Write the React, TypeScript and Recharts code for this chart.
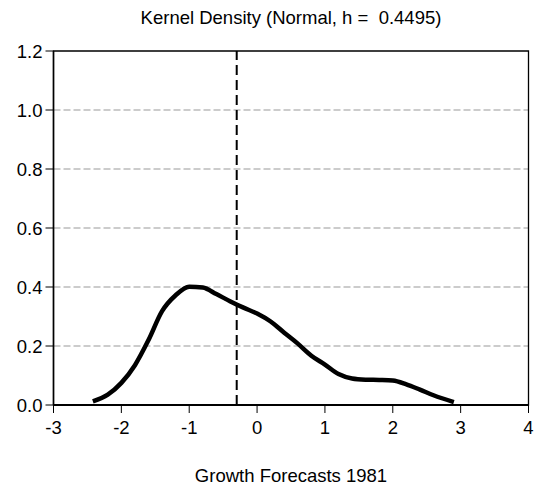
import React from "react";
import {
  LineChart,
  Line,
  XAxis,
  YAxis,
  CartesianGrid,
  ReferenceLine,
  ReferenceArea,
} from "recharts";

// growth forecast values (x) and estimated density (y)
const growth = [
  -2.42, -2.2, -2.0, -1.8, -1.6, -1.4, -1.2, -1.0, -0.8, -0.6, -0.4, -0.2, 0.0,
  0.2, 0.4, 0.6, 0.8, 1.0, 1.2, 1.4, 1.6, 1.8, 2.0, 2.2, 2.4, 2.6, 2.9,
];
const density = [
  0.012, 0.035, 0.075, 0.135, 0.22, 0.318, 0.372, 0.401, 0.398, 0.376, 0.352,
  0.33, 0.31, 0.283, 0.245, 0.208, 0.167, 0.137, 0.105, 0.09, 0.086, 0.085,
  0.083, 0.07, 0.052, 0.033, 0.01,
];
const meanValue = -0.3;
const xTicks = [-3, -2, -1, 0, 1, 2, 3, 4];
const yTicks = [0, 0.2, 0.4, 0.6, 0.8, 1.0, 1.2];

const data = growth.map((x, i) => ({ x, y: density[i] }));

const font = "'Liberation Sans', Arial, sans-serif";
const fontSize = 18.5;

export default function App() {
  return (
    <div
      style={{
        position: "fixed",
        top: 0,
        left: 0,
        width: 535,
        height: 490,
        background: "#fff",
        fontFamily: font,
      }}
    >
      <div
        style={{
          position: "absolute",
          top: 7,
          left: 53,
          width: 476,
          textAlign: "center",
          fontSize,
          color: "#000",
          whiteSpace: "pre",
        }}
      >
        {"Kernel Density (Normal, h =  0.4495)"}
      </div>
      <LineChart
        width={535}
        height={490}
        data={data}
        style={{ overflow: "visible" }}
        margin={{ top: 51, right: 6.5, left: 13.5, bottom: 55 }}
      >
        <CartesianGrid
          vertical={false}
          stroke="#999"
          strokeDasharray="7 3"
          horizontalValues={[0.2, 0.4, 0.6, 0.8, 1.0]}
        />
        <XAxis
          dataKey="x"
          type="number"
          domain={[-3, 4]}
          ticks={xTicks}
          interval={0}
          tickFormatter={(v: number) => String(v)}
          height={30}
          tickSize={8}
          tickMargin={8}
          axisLine={{ stroke: "#000", strokeWidth: 2 }}
          tickLine={{ stroke: "#000" }}
          tick={{ fill: "#000", fontSize, fontFamily: font }}
        />
        <YAxis
          type="number"
          domain={[0, 1.2]}
          ticks={yTicks}
          interval={0}
          tickFormatter={(v: number) => v.toFixed(1)}
          width={40}
          tickSize={8}
          tickMargin={3}
          axisLine={{ stroke: "#000", strokeWidth: 1.5 }}
          tickLine={{ stroke: "#000" }}
          tick={{ fill: "#000", fontSize, fontFamily: font }}
        />
        <ReferenceArea
          x1={-3}
          x2={4}
          y1={0}
          y2={1.2}
          fill="none"
          stroke="#000"
          strokeWidth={1.3}
        />
        <ReferenceLine
          x={meanValue}
          stroke="#000"
          strokeWidth={2}
          strokeDasharray="10 5"
        />
        <Line
          type="monotone"
          dataKey="y"
          stroke="#000"
          strokeWidth={4.5}
          dot={false}
          isAnimationActive={false}
        />
      </LineChart>
      <div
        style={{
          position: "absolute",
          top: 465,
          left: 53,
          width: 476,
          textAlign: "center",
          fontSize,
          color: "#000",
        }}
      >
        Growth Forecasts 1981
      </div>
    </div>
  );
}
